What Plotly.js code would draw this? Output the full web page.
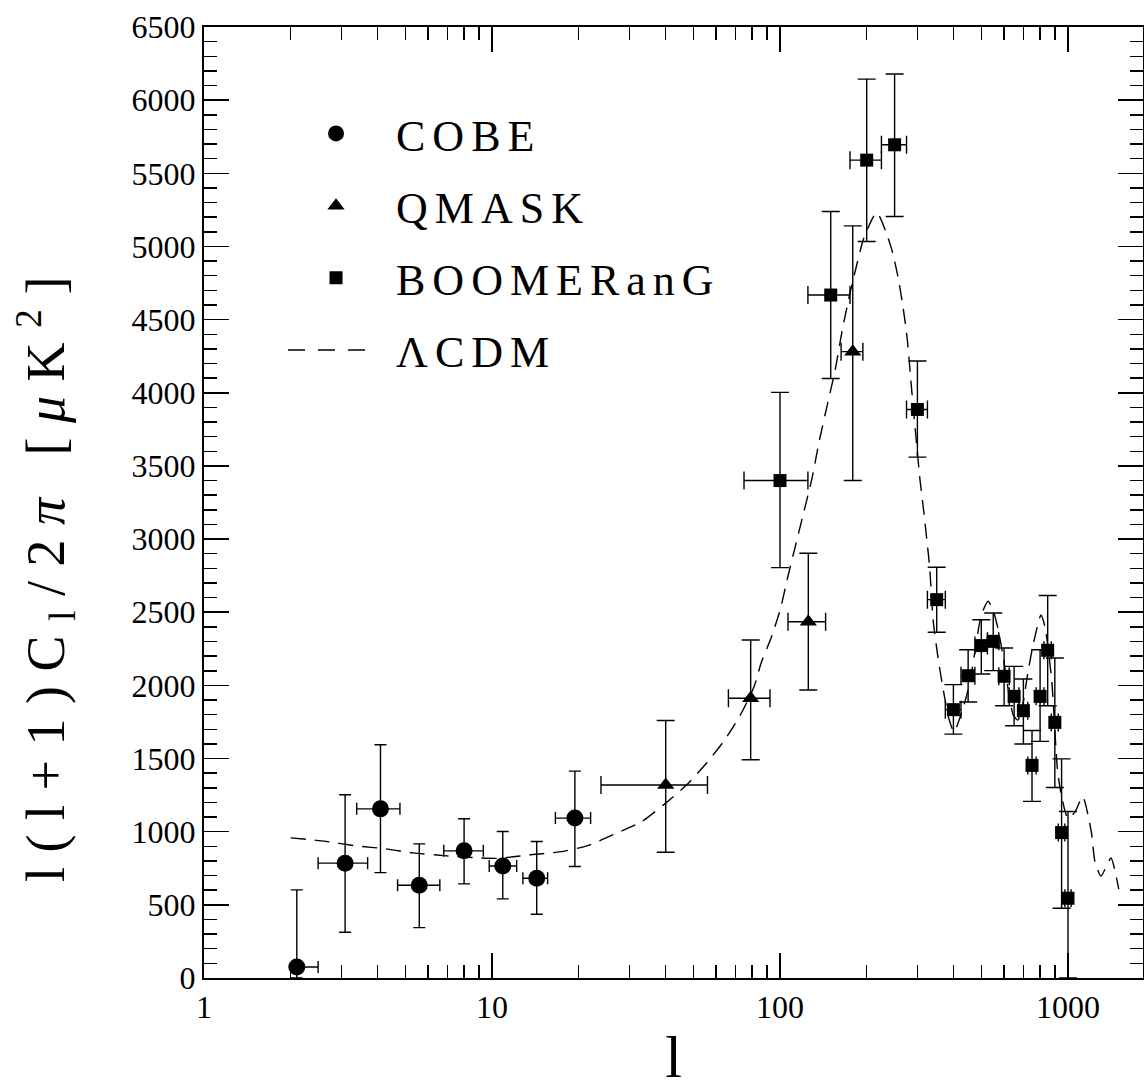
<!DOCTYPE html>
<html><head><meta charset="utf-8">
<script src="https://cdn.plot.ly/plotly-3.0.1.min.js"></script>
<style>
html,body{margin:0;padding:0;background:#fff;}
#chart{width:1144px;height:1090px;}
.legendtext{letter-spacing:7px;}
.annotation-text{letter-spacing:14.5px;}
</style></head><body><div id="chart"></div>
<script>
// ---- COBE ----
const cobeL    = [2.1, 3.09, 4.10, 5.59, 8.0, 10.9, 14.3, 19.4];
const cobeLLo  = [2.08, 2.49, 3.39, 4.70, 6.80, 9.78, 12.8, 16.6];
const cobeLHi  = [2.49, 3.70, 4.79, 6.59, 9.33, 12.18, 15.6, 22.0];
const cobeV    = [75, 785, 1156, 634, 869, 766, 682, 1093];
const cobeVLo  = [0, 313, 720, 344, 643, 541, 436, 762];
const cobeVHi  = [602, 1252, 1594, 917, 1088, 1001, 933, 1414];

// ---- QMASK ----
const qmL   = [40.1, 79.1, 125.4, 178.9];
const qmLLo = [23.9, 66.2, 106.6, 163];
const qmLHi = [56.0, 92.3, 144, 194];
const qmV   = [1319, 1912, 2435, 4281];
const qmVLo = [860, 1492, 1968, 3400];
const qmVHi = [1760, 2310, 2903, 5141];

// ---- BOOMERanG ----
const bL   = [100,150,200,250,300,350,400,450,500,550,600,650,700,750,800,850,900,950,1000];
const bLLo = [75,125,175,225,275,325,375,425,475,525,575,625,675,725,775,825,875,925,975];
const bLHi = [125,175,225,275,325,375,425,475,525,575,625,675,725,775,825,875,925,975,1025];
const bV   = [3400,4668,5590,5695,3886,2586,1834,2066,2272,2301,2062,1925,1827,1453,1925,2240,1747,994,545];
const bVLo = [2805,4098,5034,5205,3560,2363,1667,1886,2078,2101,1861,1724,1599,1207,1617,1861,1302,477,0];
const bVHi = [4003,5239,6144,6179,4217,2807,2005,2244,2449,2495,2256,2130,2044,1692,2244,2614,2187,1498,1138];

// ---- LambdaCDM model ----
const modelL = [2.0,2.65,3.37,4.28,5.31,6.97,8.59,10.5,13.5,17.2,21.5,26.7,33.0,39.8,47.4,55.7,64.3,73.2,81.2,86.2,93.4,100.3,106.2,112.2,120.2,129.2,136.6,145.9,155.2,164.2,175.0,183.6,195.7,216.8,242.9,256.9,267.4,276.1,287.2,306.3,314.6,323,330.8,340,353.8,365,385,402,442.4,464,500,528,553,572.8,596.5,645.8,675,728,757.8,805.7,832,877.6,919.5,950.7,1000,1057.6,1125,1205,1241,1302,1410,1474,1500];
const modelV = [958,934,903,883,855,835,823,818,842,862,905,985,1067,1190,1320,1471,1628,1806,1989,2160,2331,2522,2734,2925,3164,3417,3663,3916,4150,4420,4682,4853,5060,5231,4997,4791,4586,4381,3998,3404,3212,3007,2809,2450,2187,2023,1780,1683,1914,2105,2480,2575,2495,2378,2187,1797,1760,2105,2283,2481,2399,2037,1422,1237,1090,1135,1239,998,793,697,820,683,608];

const xTickVals = [1, 10, 100, 1000];
const xTickText = ['1', '10', '100', '1000'];
const yTitle = 'l(l+1)C<sub>l</sub>/2<i>\u03C0</i> [<i>\u03BC</i>K<sup>2</sup>]';

function diff(a, b) { return a.map((v, i) => v - b[i]); }

function dataTrace(name, L, LLo, LHi, V, VLo, VHi, symbol, size, cap) {
  return {
    type: 'scatter', mode: 'markers', name: name, legendgroup: name,
    x: L, y: V,
    marker: { symbol: symbol, size: size, color: '#000', line: { width: 0 } },
    error_x: { type: 'data', symmetric: false, array: diff(LHi, L), arrayminus: diff(L, LLo),
               color: '#000', thickness: 1.4, width: cap },
    error_y: { type: 'data', symmetric: false, array: diff(VHi, V), arrayminus: diff(V, VLo),
               color: '#000', thickness: 1.4, width: cap },
    hoverinfo: 'x+y'
  };
}

const traces = [
  dataTrace('COBE', cobeL, cobeLLo, cobeLHi, cobeV, cobeVLo, cobeVHi, 'circle', 17, 6),
  dataTrace('QMASK', qmL, qmLLo, qmLHi, qmV, qmVLo, qmVHi, 'triangle-up', 15, 9),
  dataTrace('BOOMERanG', bL, bLLo, bLHi, bV, bVLo, bVHi, 'square', 13, 9),
  {
    type: 'scatter', mode: 'lines', name: '\u039BCDM', legendgroup: 'lcdm', showlegend: false,
    x: modelL, y: modelV,
    line: { color: '#000', width: 1.4, dash: '15px,9px', shape: 'spline', smoothing: 0.6 },
    hoverinfo: 'x+y'
  },
  {
    // legend-only entry for the model curve (shorter dashed sample)
    type: 'scatter', mode: 'lines', name: '\u039BCDM', legendgroup: 'lcdm', showlegend: true,
    x: [null], y: [null],
    line: { color: '#000', width: 1.4, dash: '0px,7px,17px,13px,17px,13px,17px,40px' }
  }
];

const tickFont = { family: 'Liberation Serif', size: 32, color: '#000' };

const layout = {
  width: 1144, height: 1090,
  margin: { l: 204, r: 1, t: 27, b: 112 },
  paper_bgcolor: '#fff', plot_bgcolor: '#fff',
  showlegend: true,
  legend: {
    x: 0.0767, y: 0.925, xanchor: 'left', yanchor: 'top',
    font: { family: 'Liberation Serif', size: 44, color: '#000' },
    bgcolor: 'rgba(0,0,0,0)', borderwidth: 0,
    itemwidth: 110, tracegroupgap: 12, traceorder: 'grouped'
  },
  xaxis: {
    type: 'log', range: [0, 3.2604],
    tickmode: 'array', tickvals: xTickVals, ticktext: xTickText,
    ticks: 'inside', ticklen: 25, tickwidth: 1.5, tickcolor: '#000',
    minor: { ticks: 'inside', ticklen: 13, tickwidth: 1.5, tickcolor: '#000', dtick: 'D1', showgrid: false },
    showline: true, linewidth: 2, linecolor: '#000', mirror: 'ticks',
    showgrid: false, zeroline: false, tickfont: tickFont,
    title: { text: 'l', font: { family: 'Liberation Serif', size: 60, color: '#000' }, standoff: 22 }
  },
  yaxis: {
    range: [0, 6500], dtick: 500, tick0: 0,
    ticks: 'inside', ticklen: 25, tickwidth: 1.5, tickcolor: '#000',
    minor: { ticks: 'inside', ticklen: 13, tickwidth: 1.5, tickcolor: '#000', dtick: 100, showgrid: false },
    showline: true, linewidth: 2, linecolor: '#000', mirror: 'ticks',
    showgrid: false, zeroline: false, tickfont: tickFont
  },
  annotations: [{
    text: yTitle, textangle: -90, showarrow: false,
    xref: 'paper', yref: 'paper', x: -0.1693, y: 0.4269,
    xanchor: 'center', yanchor: 'middle',
    font: { family: 'Liberation Serif', size: 54, color: '#000' }
  }]
};

Plotly.newPlot('chart', traces, layout, { staticPlot: true });
</script></body></html>
